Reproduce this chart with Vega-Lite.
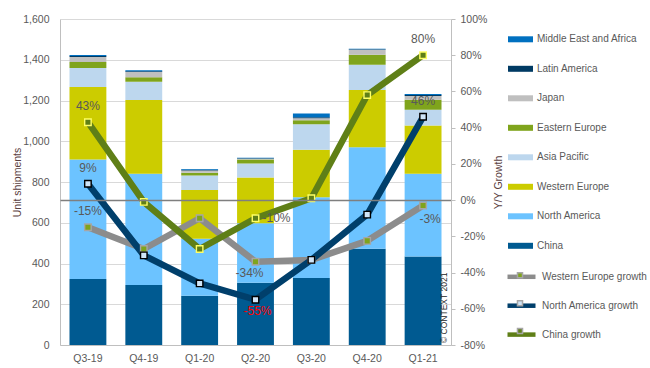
{
  "$schema": "https://vega.github.io/schema/vega-lite/v6.json",
  "width": 391,
  "height": 326,
  "autosize": {"type": "none"},
  "padding": {"left": 60, "top": 19, "right": 199, "bottom": 23},
  "background": "#ffffff",
  "config": {
    "view": {"stroke": null},
    "font": "Liberation Sans",
    "locale": {"number": {"decimal": ".", "thousands": ",", "grouping": [3], "currency": ["$", ""], "minus": "-"}},
    "axis": {
      "labelFont": "Liberation Sans",
      "labelColor": "#595959",
      "labelFontSize": 10.5,
      "titleFont": "Liberation Sans",
      "titleFontWeight": "normal",
      "titleColor": "#5a4040",
      "titleFontSize": 10.5,
      "domainColor": "#bfbfbf",
      "gridColor": "#d9d9d9"
    },
    "legend": {"labelFont": "Liberation Sans", "labelColor": "#595959", "labelFontSize": 10}
  },
  "datasets": {
    "shipments": [
      {"quarter": "Q3-19", "region": "China", "units": 324},
      {"quarter": "Q3-19", "region": "North America", "units": 587},
      {"quarter": "Q3-19", "region": "Western Europe", "units": 355},
      {"quarter": "Q3-19", "region": "Asia Pacific", "units": 93},
      {"quarter": "Q3-19", "region": "Eastern Europe", "units": 30},
      {"quarter": "Q3-19", "region": "Japan", "units": 24},
      {"quarter": "Q3-19", "region": "Latin America", "units": 5},
      {"quarter": "Q3-19", "region": "Middle East and Africa", "units": 5},
      {"quarter": "Q4-19", "region": "China", "units": 295},
      {"quarter": "Q4-19", "region": "North America", "units": 546},
      {"quarter": "Q4-19", "region": "Western Europe", "units": 362},
      {"quarter": "Q4-19", "region": "Asia Pacific", "units": 89},
      {"quarter": "Q4-19", "region": "Eastern Europe", "units": 22},
      {"quarter": "Q4-19", "region": "Japan", "units": 26},
      {"quarter": "Q4-19", "region": "Latin America", "units": 4},
      {"quarter": "Q4-19", "region": "Middle East and Africa", "units": 4},
      {"quarter": "Q1-20", "region": "China", "units": 242},
      {"quarter": "Q1-20", "region": "North America", "units": 279},
      {"quarter": "Q1-20", "region": "Western Europe", "units": 240},
      {"quarter": "Q1-20", "region": "Asia Pacific", "units": 71},
      {"quarter": "Q1-20", "region": "Eastern Europe", "units": 14},
      {"quarter": "Q1-20", "region": "Japan", "units": 10},
      {"quarter": "Q1-20", "region": "Latin America", "units": 4},
      {"quarter": "Q1-20", "region": "Middle East and Africa", "units": 4},
      {"quarter": "Q2-20", "region": "China", "units": 305},
      {"quarter": "Q2-20", "region": "North America", "units": 293},
      {"quarter": "Q2-20", "region": "Western Europe", "units": 224},
      {"quarter": "Q2-20", "region": "Asia Pacific", "units": 69},
      {"quarter": "Q2-20", "region": "Eastern Europe", "units": 19},
      {"quarter": "Q2-20", "region": "Japan", "units": 4},
      {"quarter": "Q2-20", "region": "Latin America", "units": 2},
      {"quarter": "Q2-20", "region": "Middle East and Africa", "units": 3},
      {"quarter": "Q3-20", "region": "China", "units": 329},
      {"quarter": "Q3-20", "region": "North America", "units": 396},
      {"quarter": "Q3-20", "region": "Western Europe", "units": 233},
      {"quarter": "Q3-20", "region": "Asia Pacific", "units": 125},
      {"quarter": "Q3-20", "region": "Eastern Europe", "units": 20},
      {"quarter": "Q3-20", "region": "Japan", "units": 10},
      {"quarter": "Q3-20", "region": "Latin America", "units": 5},
      {"quarter": "Q3-20", "region": "Middle East and Africa", "units": 18},
      {"quarter": "Q4-20", "region": "China", "units": 473},
      {"quarter": "Q4-20", "region": "North America", "units": 498},
      {"quarter": "Q4-20", "region": "Western Europe", "units": 281},
      {"quarter": "Q4-20", "region": "Asia Pacific", "units": 123},
      {"quarter": "Q4-20", "region": "Eastern Europe", "units": 49},
      {"quarter": "Q4-20", "region": "Japan", "units": 25},
      {"quarter": "Q4-20", "region": "Latin America", "units": 2},
      {"quarter": "Q4-20", "region": "Middle East and Africa", "units": 3},
      {"quarter": "Q1-21", "region": "China", "units": 434},
      {"quarter": "Q1-21", "region": "North America", "units": 407},
      {"quarter": "Q1-21", "region": "Western Europe", "units": 236},
      {"quarter": "Q1-21", "region": "Asia Pacific", "units": 78},
      {"quarter": "Q1-21", "region": "Eastern Europe", "units": 49},
      {"quarter": "Q1-21", "region": "Japan", "units": 18},
      {"quarter": "Q1-21", "region": "Latin America", "units": 5},
      {"quarter": "Q1-21", "region": "Middle East and Africa", "units": 5}
    ],
    "growth": [
      {"quarter": "Q3-19", "series": "Western Europe growth", "growth": -0.15},
      {"quarter": "Q4-19", "series": "Western Europe growth", "growth": -0.27},
      {"quarter": "Q1-20", "series": "Western Europe growth", "growth": -0.10},
      {"quarter": "Q2-20", "series": "Western Europe growth", "growth": -0.34},
      {"quarter": "Q3-20", "series": "Western Europe growth", "growth": -0.33},
      {"quarter": "Q4-20", "series": "Western Europe growth", "growth": -0.225},
      {"quarter": "Q1-21", "series": "Western Europe growth", "growth": -0.03},
      {"quarter": "Q3-19", "series": "North America growth", "growth": 0.09},
      {"quarter": "Q4-19", "series": "North America growth", "growth": -0.305},
      {"quarter": "Q1-20", "series": "North America growth", "growth": -0.46},
      {"quarter": "Q2-20", "series": "North America growth", "growth": -0.55},
      {"quarter": "Q3-20", "series": "North America growth", "growth": -0.33},
      {"quarter": "Q4-20", "series": "North America growth", "growth": -0.08},
      {"quarter": "Q1-21", "series": "North America growth", "growth": 0.46},
      {"quarter": "Q3-19", "series": "China growth", "growth": 0.43},
      {"quarter": "Q4-19", "series": "China growth", "growth": -0.01},
      {"quarter": "Q1-20", "series": "China growth", "growth": -0.27},
      {"quarter": "Q2-20", "series": "China growth", "growth": -0.10},
      {"quarter": "Q3-20", "series": "China growth", "growth": 0.01},
      {"quarter": "Q4-20", "series": "China growth", "growth": 0.58},
      {"quarter": "Q1-21", "series": "China growth", "growth": 0.80}
    ]
  },
  "layer": [
    {
      "data": {"name": "shipments"},
      "transform": [
        {"calculate": "indexof(['China','North America','Western Europe','Asia Pacific','Eastern Europe','Japan','Latin America','Middle East and Africa'], datum.region)", "as": "stackOrder"}
      ],
      "mark": {"type": "bar"},
      "encoding": {
        "x": {
          "field": "quarter", "type": "nominal",
          "scale": {"domain": ["Q3-19", "Q4-19", "Q1-20", "Q2-20", "Q3-20", "Q4-20", "Q1-21"], "paddingInner": 0.34, "paddingOuter": 0.17},
          "axis": {"title": null, "labelAngle": 0, "ticks": false, "labelPadding": 8, "domainColor": "#bfbfbf"}
        },
        "y": {
          "field": "units", "type": "quantitative", "stack": "zero",
          "scale": {"domain": [0, 1600]},
          "axis": {"title": "Unit shipments", "values": [0, 200, 400, 600, 800, 1000, 1200, 1400, 1600], "tickCount": 12, "format": ",.0f", "ticks": false, "labelPadding": 11, "grid": true, "titlePadding": 0}
        },
        "color": {
          "field": "region", "type": "nominal",
          "scale": {
            "domain": ["Middle East and Africa", "Latin America", "Japan", "Eastern Europe", "Asia Pacific", "Western Europe", "North America", "China"],
            "range": ["#0070c0", "#003a63", "#bfbfbf", "#7fa41c", "#bdd7ee", "#cccc00", "#6cc3ff", "#005a91"]
          },
          "legend": {"orient": "none", "legendX": 447, "legendY": 6.8, "title": null, "symbolType": "M-1,-0.24H1V0.24H-1Z", "symbolSize": 625, "rowPadding": 10.5, "labelOffset": 3}
        },
        "order": {"field": "stackOrder", "type": "quantitative", "sort": "ascending"}
      }
    },
    {
      "data": {"name": "growth"},
      "layer": [
        {
          "mark": {"type": "line", "strokeWidth": 6.5, "strokeJoin": "round"},
          "encoding": {
            "x": {"field": "quarter", "type": "nominal"},
            "y": {
              "field": "growth", "type": "quantitative",
              "scale": {"domain": [-0.8, 1], "nice": false, "zero": false},
              "axis": {
                "title": "Y/Y Growth", "orient": "right",
                "values": [-0.8, -0.6, -0.4, -0.2, 0, 0.2, 0.4, 0.6, 0.8, 1],
                "tickCount": 12,
                "format": ".0%", "ticks": true, "tickSize": 4, "tickColor": "#bfbfbf",
                "labelPadding": 5, "labelOverlap": false, "labelFlush": false,
                "titleAngle": 270, "titlePadding": 17, "zindex": 1,
                "grid": true,
                "gridColor": {"condition": {"test": "datum.value === 0", "value": "#7f7f7f"}, "value": "transparent"},
                "gridWidth": 1.3
              }
            },
            "stroke": {
              "field": "series", "type": "nominal",
              "scale": {"domain": ["Western Europe growth", "North America growth", "China growth"], "range": ["#8c8c8c", "#003f6b", "#5f7f17"]},
              "legend": {"orient": "none", "legendX": 445, "legendY": 241.3, "title": null, "symbolType": "stroke", "symbolSize": 784, "symbolStrokeWidth": 4.5, "rowPadding": 2.9, "labelOffset": 4}
            }
          }
        },
        {
          "mark": {"type": "point", "shape": "square", "filled": true, "size": 42, "strokeWidth": 1.4, "opacity": 1},
          "encoding": {
            "x": {"field": "quarter", "type": "nominal"},
            "y": {"field": "growth", "type": "quantitative"},
            "fill": {
              "field": "series", "type": "nominal",
              "sort": ["Western Europe growth", "North America growth", "China growth"],
              "scale": {"range": ["#7fa41c", "#cfe5f8", "#5f7f17"]},
              "legend": {
                "orient": "none", "legendX": 445, "legendY": 241.3, "title": null,
                "symbolType": "M-0.18,-0.18H0.18V0.18H-0.18Z", "symbolSize": 784, "rowPadding": 6.9, "labelOffset": 4,
                "labelExpr": "' '",
                "encode": {"symbols": {"update": {"stroke": {"signal": "datum.value == 'China growth' ? '#ffff66' : datum.value == 'North America growth' ? '#000000' : '#a6a6a6'"}, "strokeWidth": {"value": 1}}}}
              }
            },
            "stroke": {
              "condition": [
                {"test": "datum.series == 'China growth'", "value": "#ffff66"},
                {"test": "datum.series == 'North America growth'", "value": "#000000"}
              ],
              "value": "#a6a6a6"
            }
          }
        },
        {
          "transform": [{"filter": "(datum.quarter == 'Q3-19') || (datum.quarter == 'Q1-21' && datum.series != 'Western Europe growth')"}],
          "mark": {"type": "text", "dy": -16, "fontSize": 12, "color": "#595959", "baseline": "middle"},
          "encoding": {
            "x": {"field": "quarter", "type": "nominal"},
            "y": {"field": "growth", "type": "quantitative"},
            "text": {"field": "growth", "type": "quantitative", "format": ".0%"}
          }
        },
        {
          "transform": [{"filter": "datum.quarter == 'Q2-20' && datum.series == 'China growth'"}],
          "mark": {"type": "text", "dx": 7, "align": "left", "fontSize": 12, "color": "#595959", "baseline": "middle"},
          "encoding": {
            "x": {"field": "quarter", "type": "nominal"},
            "y": {"field": "growth", "type": "quantitative"},
            "text": {"field": "growth", "type": "quantitative", "format": ".0%"}
          }
        },
        {
          "transform": [{"filter": "datum.quarter == 'Q2-20' && datum.series == 'Western Europe growth'"}],
          "mark": {"type": "text", "dx": -6, "dy": 11, "fontSize": 12, "color": "#595959", "baseline": "middle"},
          "encoding": {
            "x": {"field": "quarter", "type": "nominal"},
            "y": {"field": "growth", "type": "quantitative"},
            "text": {"field": "growth", "type": "quantitative", "format": ".0%"}
          }
        },
        {
          "transform": [{"filter": "datum.quarter == 'Q2-20' && datum.series == 'North America growth'"}],
          "mark": {"type": "text", "dx": 2, "dy": 11, "fontSize": 12, "color": "#ff0000", "baseline": "middle"},
          "encoding": {
            "x": {"field": "quarter", "type": "nominal"},
            "y": {"field": "growth", "type": "quantitative"},
            "text": {"field": "growth", "type": "quantitative", "format": ".0%"}
          }
        },
        {
          "transform": [{"filter": "datum.quarter == 'Q1-21' && datum.series == 'Western Europe growth'"}],
          "mark": {"type": "text", "dx": 7, "dy": 13, "fontSize": 12, "color": "#595959", "baseline": "middle"},
          "encoding": {
            "x": {"field": "quarter", "type": "nominal"},
            "y": {"field": "growth", "type": "quantitative"},
            "text": {"field": "growth", "type": "quantitative", "format": ".0%"}
          }
        },
        {
          "transform": [{"filter": "datum.quarter == 'Q1-21' && datum.series == 'China growth'"}],
          "mark": {"type": "text", "angle": 270, "align": "left", "baseline": "middle", "fontSize": 8.5, "color": "#262626", "dy": 21, "dx": 2},
          "encoding": {
            "x": {"field": "quarter", "type": "nominal"},
            "y": {"datum": -0.8, "type": "quantitative"},
            "text": {"value": "© CONTEXT 2021"}
          }
        }
      ]
    }
  ],
  "resolve": {"scale": {"y": "independent"}}
}
